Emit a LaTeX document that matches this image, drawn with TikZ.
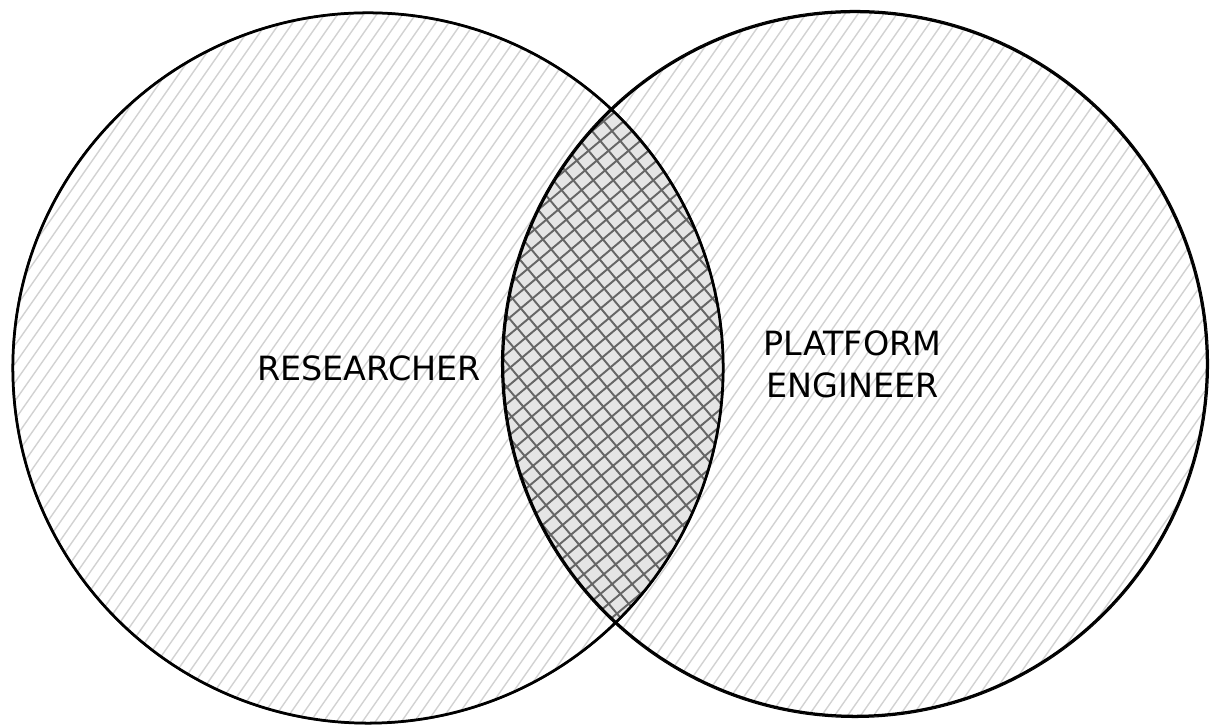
\documentclass[tikz,border=0pt]{standalone}
\usepackage{fontspec}
\setmainfont{DejaVu Sans}
\begin{document}
\begin{tikzpicture}
    \tikzset{rim/.style = {draw=black, line width=1.4pt}}
    \tikzset{rough/.style = {draw=black, line width=0.6pt}}
    \tikzset{hatch/.style = {draw=gray!35, line width=0.8pt}}
    \tikzset{cross/.style = {draw=black!60, line width=1.1pt}}
    \tikzset{tag/.style = {font=\fontsize{19}{24}\selectfont, align=center, inner sep=0pt}}
    \useasboundingbox (0,0) rectangle (24.22,14.56);
    \coordinate (res) at (7.36,7.20);
    \coordinate (eng) at (17.10,7.28);
    % light hatching
    \begin{scope}
        \clip (res) circle (7.1);
        \foreach \x in {-13,-12.74,...,25}
            \draw[hatch] (\x,-0.2) -- ++(55:19);
    \end{scope}
    \begin{scope}
        \clip (eng) circle (7.04);
        \foreach \x in {-13,-12.74,...,25}
            \draw[hatch] (\x,-0.2) -- ++(55:19);
    \end{scope}
    % overlap
    \begin{scope}
        \clip (res) circle (7.1);
        \clip (eng) circle (7.04);
        \fill[gray!20] (9,1) rectangle (16,14);
        \foreach \x in {-3,-2.6,...,15}
            \draw[cross] (\x,1.5) -- ++(40:17);
        \foreach \x in {9,9.4,...,27}
            \draw[cross] (\x,1.5) -- ++(130:17);
    \end{scope}
    % outlines
    \draw[rim] (res) circle (7.1);
    \draw[rough, xshift=0.04cm, yshift=-0.05cm] (res) circle (7.12);
    \draw[rim] (eng) circle (7.04);
    \draw[rough, xshift=-0.05cm, yshift=0.04cm] (eng) circle (7.07);
    \node[tag] (researcher) at (7.38,7.20) {RESEARCHER};
    \node[tag] (platform) at (17.05,7.28) {PLATFORM\\ENGINEER};
\end{tikzpicture}
\end{document}
